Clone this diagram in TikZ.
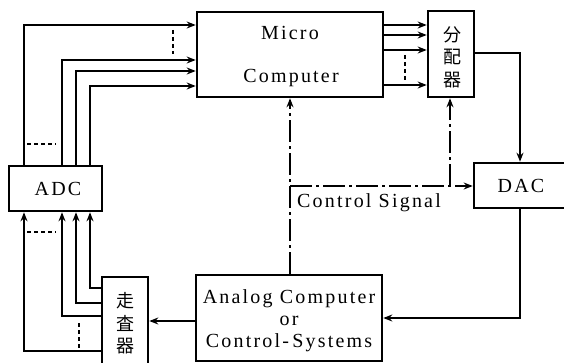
\documentclass[tikz,border=0pt]{standalone}
\usepackage{fontspec}
\setmainfont[LetterSpace=11]{Liberation Serif}
\newfontfamily\cjk{Noto Sans CJK JP}
\usetikzlibrary{arrows.meta}
\begin{document}
\begin{tikzpicture}[x=1pt,y=-1pt,
  box/.style={draw,line width=2.6pt,rectangle,inner sep=0pt},
  txt/.style={inner sep=0pt,font=\fontsize{20}{23}\selectfont},
  cjktxt/.style={inner sep=0pt,align=center,font=\cjk\fontsize{18}{22.5}\selectfont},
  conn/.style={line width=1.8pt},
  arr/.style={conn,-{Stealth[length=9pt,width=7pt]}},
  dsh/.style={line width=1.6pt,dash pattern=on 4pt off 3pt},
  dd/.style={dash pattern=on 22pt off 4pt on 3pt off 4pt}]
\useasboundingbox (0,0) rectangle (564,363);
\clip (0,0) rectangle (564,363);
% boxes
\node[box,minimum width=186pt,minimum height=85pt] (micro) at (290,54.5) {};
\node[txt] (microA) at (290,33) {Micro};
\node[txt] (microB) at (291,78) {Computer};
\node[box,minimum width=46pt,minimum height=86pt] (dist) at (451,54) {};
\node[cjktxt] (distT) at (452,57) {分\\配\\器};
\node[box,minimum width=93pt,minimum height=45pt] (adc) at (55.5,188.5) {};
\node[txt] (adcT) at (58,189) {ADC};
\node[box,minimum width=94pt,minimum height=45pt] (dac) at (521,185.5) {};
\node[txt] (dacT) at (521,186) {DAC};
\node[box,minimum width=46pt,minimum height=94pt] (scan) at (125,324) {};
\node[cjktxt] (scanT) at (125,323.5) {走\\査\\器};
\node[box,minimum width=186pt,minimum height=86pt] (analog) at (289,318) {};
\node[txt] (anA) at (289,299) {Analog Computer};
\node[txt] (anB) at (289,321) {or};
\node[txt] (anC) at (289,343) {Control-\,Systems};
\node[txt,anchor=west] (ctl) at (297,203) {Control Signal};
% ADC -> Micro
\draw[arr] (24,0 |- adc.north) -- (24,25) -- (24,25 -| micro.west);
\draw[arr] (62,0 |- adc.north) -- (62,60) -- (62,60 -| micro.west);
\draw[arr] (76,0 |- adc.north) -- (76,71) -- (76,71 -| micro.west);
\draw[arr] (90,0 |- adc.north) -- (90,86) -- (90,86 -| micro.west);
\draw[dsh] (173,30) -- (173,54);
\draw[dsh] (27,144) -- (56,144);
% scanner -> ADC
\draw[arr] (scan.west |- 0,288) -- (90,288) -- (90,0 |- adc.south);
\draw[arr] (scan.west |- 0,303) -- (76,303) -- (76,0 |- adc.south);
\draw[arr] (scan.west |- 0,316) -- (62,316) -- (62,0 |- adc.south);
\draw[arr] (scan.west |- 0,351) -- (24,351) -- (24,0 |- adc.south);
\draw[dsh] (27,232) -- (56,232);
\draw[dsh] (79,323) -- (79,348);
% Micro -> distributor
\draw[arr] (micro.east |- 0,25) -- (dist.west |- 0,25);
\draw[arr] (micro.east |- 0,35) -- (dist.west |- 0,35);
\draw[arr] (micro.east |- 0,50) -- (dist.west |- 0,50);
\draw[arr] (micro.east |- 0,85) -- (dist.west |- 0,85);
\draw[dsh] (405,55) -- (405,80);
% distributor -> DAC -> analog -> scanner
\draw[arr] (dist.east |- 0,53) -- (520,53) -- (520,0 |- dac.north);
\draw[arr] (520,0 |- dac.south) -- (520,318) -- (analog.east |- 0,318);
\draw[arr] (analog.west |- 0,321) -- (scan.east |- 0,321);
% control signal (dash-dot)
\coordinate (j1) at (290,186);
\coordinate (j2) at (450,186);
\draw[arr,dd] (290,0 |- analog.north) -- (290,0 |- micro.south);
\draw[arr,dd] (j1) -- (j1 -| dac.west);
\draw[arr,dd] (j2) -- (450,0 |- dist.south);
\end{tikzpicture}
\end{document}
